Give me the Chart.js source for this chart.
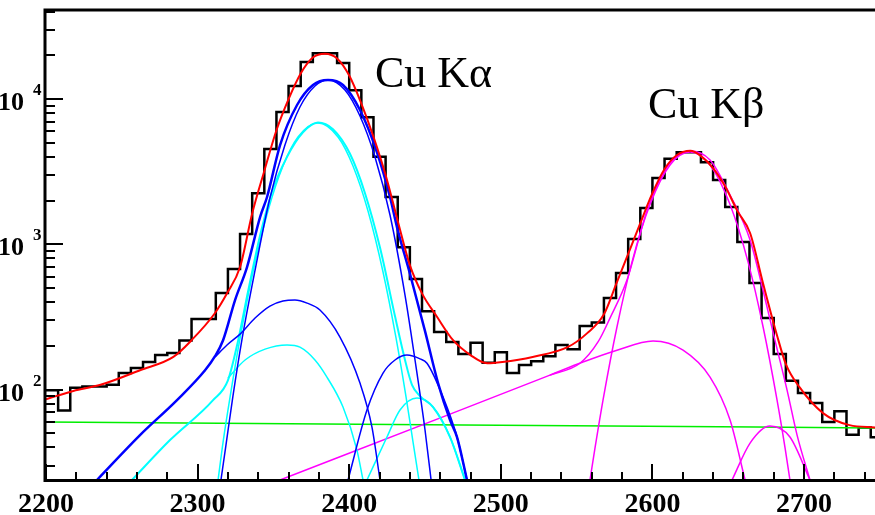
<!DOCTYPE html>
<html>
<head>
<meta charset="utf-8">
<title>Cu K-alpha / K-beta spectrum</title>
<script src="https://cdn.jsdelivr.net/npm/chart.js@4.4.1/dist/chart.umd.min.js"></script>
<style>
    html, body { margin: 0; padding: 0; background: #fff; }
    #spectrum { display: block; }
</style>
</head>
<body>
<canvas id="spectrum" width="875" height="515"></canvas>
<script>
// Measured spectrum: lower edge of first bin, bin width, counts per bin
const histLow = 2200;
const histBinWidth = 8;
const histCounts = [
    99, 72, 103, 105, 105, 108, 130, 141, 155, 173, 179, 218, 306, 306, 462, 676,
    1180, 2250, 4530, 8150, 12300, 18000, 20700, 20700, 17700, 11500, 7500, 4000,
    2120, 957, 577, 347, 249, 213, 176, 210, 153, 181, 130, 148, 157, 170, 203, 190,
    274, 290, 427, 634, 1090, 1780, 2860, 3880, 4300, 4300, 3680, 2770, 1810, 1040,
    542, 311, 176, 115, 95, 81, 60, 71, 49, 55, 47
];

// Axis ranges and ticks
const xMin = 2200, xMax = 2746.8;
const yMin = 23.9, yMax = 41000;
const xTickLabels = [2200, 2300, 2400, 2500, 2600, 2700];
const xMinorStep = 20;
const yTickExponents = [2, 3, 4];

// Total fit (red)
const fitX = [2200, 2218, 2236, 2262, 2284, 2296, 2311.5, 2319.5, 2328, 2336, 2344, 2352, 2360, 2368, 2376, 2384,
    2392, 2400, 2408, 2416, 2424, 2432, 2440, 2448, 2458, 2468.5, 2480, 2491, 2501, 2521, 2544, 2557, 2568, 2576,
    2584, 2592, 2600, 2608, 2616, 2625, 2632, 2640, 2648, 2656, 2664.4, 2672.9, 2682, 2688, 2697, 2712.5, 2730, 2747];
const fitY = [86, 98, 108, 136, 168, 219, 337, 462, 698, 1630, 3200, 6100, 10000, 15000, 19300, 20500,
    19000, 14500, 9300, 5500, 3000, 1450, 720, 460, 316, 219, 173, 152, 155, 168, 196, 245, 330, 530,
    860, 1400, 2250, 3300, 4100, 4400, 4050, 3350, 2500, 1700, 1197, 542, 240, 150, 104, 69, 57, 55];

// Background (green)
const bgX = [2200, 2475, 2747];
const bgY = [59.8, 57.1, 54.5];

// K-alpha1 total with tails (blue, thick)
const ka1X = [2233.6, 2262, 2286.4, 2304.9, 2311.5, 2316.8, 2324.7, 2332.6, 2341.2, 2345.8, 2354.4, 2365.6, 2376.1,
    2386, 2395.9, 2407.1, 2418.3, 2426.9, 2431.5, 2440.1, 2450, 2458.6, 2466.5, 2471.1, 2477.7];
const ka1Y = [23.9, 48.7, 84.8, 136, 170, 219, 414, 698, 1542, 2118, 4824, 9101, 12500,
    13520, 12490, 8401, 4300, 2118, 1315, 625, 253, 111, 61.8, 47.2, 23.9];

// K-alpha1 gaussian (blue)
const ka1GausX = [2315.4, 2318.7, 2323.3, 2329.3, 2337.9, 2347.7, 2357.6, 2367.5, 2377.4, 2386, 2397.2, 2407.1,
    2417, 2426.9, 2436.8, 2443.4, 2450, 2454];
const ka1GausY = [23.9, 41.6, 90.3, 223, 665, 2084, 4824, 8813, 12290, 13520, 11530, 7638,
    3990, 1592, 448, 160, 52.8, 23.9];

// K-alpha1 satellites (blue)
const ka1LowX = [2311.5, 2319.4, 2328, 2337.9, 2347.7, 2356.3, 2364.2, 2372.2, 2380.7, 2393.9, 2407.1, 2415, 2420.3];
const ka1LowY = [168, 203, 241, 311, 376, 407, 414, 394, 353, 230, 111, 55.3, 23.9];
const ka1HighX = [2399.2, 2411.7, 2422.3, 2430.2, 2438.1, 2446.7, 2451.3, 2461.9, 2471.1, 2477.7];
const ka1HighY = [23.9, 72.4, 130, 160, 173, 163, 152, 88.9, 47.2, 23.9];

// K-alpha2 total with tails (cyan)
const ka2X = [2256.7, 2281.8, 2310.2, 2320, 2326.6, 2333.2, 2341.2, 2349.1, 2359, 2369.5, 2379.4, 2389.3,
    2400.5, 2410.4, 2420.3, 2430.2, 2436.8, 2441.4, 2446.7, 2455.3, 2466.5, 2476.4];
const ka2Y = [23.9, 45.0, 84.8, 116, 215, 470, 1150, 2300, 4000, 5900, 6900, 6200,
    4200, 2250, 950, 320, 160, 108, 90.3, 75.9, 47.2, 23.9];

// K-alpha2 gaussian (cyan)
const ka2GausX = [2313.5, 2316.8, 2321.4, 2328, 2336.5, 2346.4, 2356.3, 2366.2, 2379.4, 2392.6, 2402.5, 2412.4,
    2422.3, 2430.9, 2437.5, 2442.1, 2446];
const ka2GausY = [23.9, 43.6, 88.9, 226, 645, 1696, 3459, 5476, 6837, 5476, 3459, 1696,
    645, 226, 88.9, 43.6, 23.9];

// K-alpha2 satellites (cyan)
const ka2LowX = [2320, 2331.3, 2344.5, 2359, 2367.5, 2377.4, 2385.3, 2395.9, 2405.1, 2409.1];
const ka2LowY = [120, 160, 190, 203, 196, 160, 122, 75.9, 38.4, 23.9];
const ka2HighX = [2411.7, 2424.9, 2433.5, 2444.7, 2455.3, 2466.5, 2476.4];
const ka2HighY = [23.9, 47.2, 72.4, 87.5, 75.9, 47.2, 23.9];

// K-beta components (magenta)
const kbTotalX = [2532.4, 2552.2, 2564.1, 2572, 2583.2, 2596.4, 2609.6, 2624.8, 2638, 2651.2, 2664.4, 2672.9,
    2680.8, 2688.8, 2695.4, 2703.9];
const kbTotalY = [126, 152, 213, 311, 568, 1700, 3400, 4388, 3803, 2184, 1072, 485,
    219, 99.3, 48.7, 23.9];
const kbGausX = [2558.8, 2562.1, 2567.4, 2576.6, 2586.5, 2598.4, 2611.6, 2624.8, 2638, 2651.2, 2663.1, 2673,
    2682.2, 2687.5, 2690.7];
const kbGausY = [23.9, 39.6, 84.8, 270, 755, 1879, 3515, 4317, 3515, 1879, 755, 270, 84.8, 39.6, 23.9];
const kbTailX = [2354.4, 2466.5, 2532.4, 2554.2, 2576.6, 2600.4, 2620.2, 2638, 2651.2, 2661.1];
const kbTailY = [23.9, 67.9, 126, 155, 187, 216, 187, 122, 61.8, 23.9];
const kbHighX = [2652.5, 2664.4, 2677.5, 2690.7, 2703.9];
const kbHighY = [23.9, 42.9, 56.2, 47.2, 23.9];

const serif = '"Liberation Serif", "Times New Roman", serif';

function pairs(xs, ys) {
    return xs.map((x, i) => ({ x: x, y: ys[i] }));
}

// Step outline of the histogram: one point per bin edge
function histogramPoints() {
    const pts = histCounts.map((c, i) => ({ x: histLow + i * histBinWidth, y: c }));
    pts.push({ x: histLow + histCounts.length * histBinWidth, y: histCounts[histCounts.length - 1] });
    return pts;
}

function curve(label, xs, ys, color, width) {
    return {
        label: label,
        data: pairs(xs, ys),
        borderColor: color,
        borderWidth: width,
        pointRadius: 0,
        fill: false,
        cubicInterpolationMode: 'monotone',
        clip: 0
    };
}

/**
 * ROOT style frame: ticks inside the plot, bold serif labels, 10^n on the log axis
 */
const rootFrame = {
    id: 'rootFrame',
    afterDraw(chart) {
        const ctx = chart.ctx;
        const xs = chart.scales.x;
        const ys = chart.scales.y;
        const area = chart.chartArea;
        ctx.save();
        ctx.strokeStyle = '#000';
        ctx.fillStyle = '#000';

        // x ticks
        ctx.lineWidth = 2;
        ctx.beginPath();
        for (let v = xMin; v <= xMax; v += xMinorStep) {
            const px = Math.round(xs.getPixelForValue(v));
            const len = v % 100 === 0 ? 16 : 8;
            ctx.moveTo(px, area.bottom);
            ctx.lineTo(px, area.bottom - len);
        }
        // y ticks (decades long, 2..9 short)
        for (let e = 1; e <= 4; e++) {
            for (let m = 1; m <= 9; m++) {
                const v = m * Math.pow(10, e);
                if (v < yMin || v > yMax) continue;
                const py = Math.round(ys.getPixelForValue(v));
                ctx.moveTo(area.left, py);
                ctx.lineTo(area.left + (m === 1 ? 17 : 9), py);
            }
        }
        ctx.stroke();

        // frame
        ctx.lineWidth = 3;
        ctx.beginPath();
        ctx.moveTo(area.right, area.bottom + 0.5);
        ctx.lineTo(area.left - 1, area.bottom + 0.5);
        ctx.lineTo(area.left - 1, area.top);
        ctx.lineTo(area.right, area.top);
        ctx.stroke();

        // x labels
        ctx.font = 'bold 28px ' + serif;
        ctx.textAlign = 'center';
        ctx.textBaseline = 'alphabetic';
        xTickLabels.forEach(v => {
            ctx.fillText(String(v), xs.getPixelForValue(v), 512);
        });

        // y labels
        yTickExponents.forEach(e => {
            const py = ys.getPixelForValue(Math.pow(10, e));
            ctx.font = 'bold 26px ' + serif;
            ctx.textAlign = 'right';
            ctx.fillText('10', 24, py + 11);
            ctx.font = 'bold 17px ' + serif;
            ctx.textAlign = 'left';
            ctx.fillText(String(e), 33, py - 4);
        });

        // peak names
        ctx.font = '44px ' + serif;
        ctx.textAlign = 'left';
        ctx.fillText('Cu K\u03b1', 375, 87);
        ctx.fillText('Cu K\u03b2', 648, 118);
        ctx.restore();
    }
};

const datasets = [
    curve('fit', fitX, fitY, '#ff0000', 2),
    curve('Ka1', ka1X, ka1Y, '#0000ff', 2.5),
    curve('Ka1 gaus', ka1GausX, ka1GausY, '#0000ff', 1.5),
    curve('Ka1 low', ka1LowX, ka1LowY, '#0000ff', 1.5),
    curve('Ka1 high', ka1HighX, ka1HighY, '#0000ff', 1.5),
    curve('Ka2', ka2X, ka2Y, '#00ffff', 2),
    curve('Ka2 gaus', ka2GausX, ka2GausY, '#00ffff', 1.5),
    curve('Ka2 low', ka2LowX, ka2LowY, '#00ffff', 1.5),
    curve('Ka2 high', ka2HighX, ka2HighY, '#00ffff', 1.5),
    curve('Kb', kbTotalX, kbTotalY, '#ff00ff', 1.5),
    curve('Kb gaus', kbGausX, kbGausY, '#ff00ff', 1.5),
    curve('Kb tail', kbTailX, kbTailY, '#ff00ff', 1.5),
    curve('Kb high', kbHighX, kbHighY, '#ff00ff', 1.5),
    curve('background', bgX, bgY, '#00ee00', 1.5),
    {
        label: 'data',
        data: histogramPoints(),
        borderColor: '#000',
        borderWidth: 2.5,
        pointRadius: 0,
        fill: false,
        stepped: 'before',
        clip: 0
    }
];

new Chart(document.getElementById('spectrum'), {
    type: 'line',
    data: { datasets: datasets },
    options: {
        responsive: false,
        devicePixelRatio: 1,
        animation: false,
        layout: { padding: { top: 10, left: 0, right: 0, bottom: 0 } },
        plugins: {
            legend: { display: false },
            tooltip: { enabled: false }
        },
        scales: {
            x: {
                type: 'linear',
                min: xMin,
                max: xMax,
                grid: { display: false },
                border: { display: false },
                ticks: { display: false },
                afterFit: function(scale) { scale.height = 35; }
            },
            y: {
                type: 'logarithmic',
                min: yMin,
                max: yMax,
                grid: { display: false },
                border: { display: false },
                ticks: { display: false },
                afterFit: function(scale) { scale.width = 46; }
            }
        }
    },
    plugins: [rootFrame]
});
</script>
</body>
</html>
